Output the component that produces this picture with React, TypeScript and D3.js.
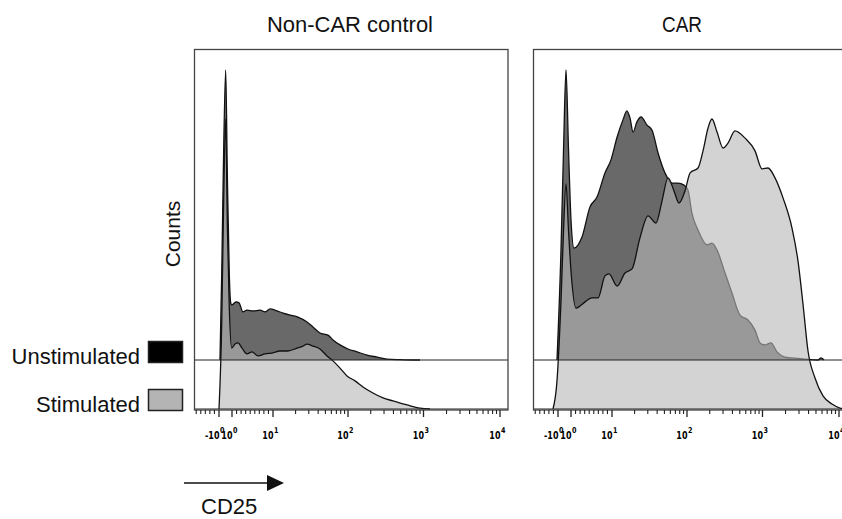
import * as d3 from "d3";
import { useEffect, useRef } from "react";

// CD25 intensity (x) and % of mode (counts)
const controlUnstimX = [-0.85, -0.58, -0.34, 0.03, 0.28, 0.58, 0.8, 0.95, 1.88, 2.54, 3.41, 4.29, 5.61, 7.15, 8.24, 9.34, 11.3, 13.6, 16.9, 21.5, 28.4, 34.1, 42.3, 54.1, 63.1, 78.2, 100, 132, 179, 242, 329, 488, 726, 899];
const controlUnstimCount = [0, 30, 64.5, 100, 64.5, 30, 19.7, 19, 20, 19.7, 16.6, 17.2, 16.9, 17.2, 16.6, 17.6, 16.9, 16.2, 15.5, 14.8, 13.1, 11.4, 9.3, 8.6, 6.9, 5.2, 3.8, 2.8, 1.7, 1.0, 0.3, 0.1, 0, 0];

const controlStimX = [-1.0, -0.58, -0.34, 0.03, 0.28, 0.58, 0.95, 1.66, 2.32, 3.2, 4.29, 5.39, 6.71, 8.24, 9.78, 12.4, 15.8, 20.9, 25.1, 28.4, 34.1, 42.3, 52.5, 63.1, 78.2, 97, 124, 158, 214, 291, 394, 605, 899, 1216];
const controlStimCount = [0, 30, 64, 100, 64, 35, 21, 22.4, 22.8, 21, 19, 19.7, 18.3, 19, 19.3, 20, 20, 21, 21.7, 22.4, 21.7, 20.7, 18.3, 16.6, 14.1, 11.4, 9.7, 7.6, 5.5, 3.8, 2.8, 1.4, 0.3, 0];

const carUnstimX = [-1.22, -0.54, -0.15, 0.23, 0.62, 1.0, 1.66, 3.41, 5.17, 6.71, 8.46, 9.78, 11.7, 14.0, 15.8, 17.4, 19.1, 21.5, 24.4, 29.3, 34.1, 41.1, 50.9, 63.1, 75.9, 91.2, 103, 116, 140, 184, 214, 250, 319, 394, 504, 643, 796, 927, 1078, 1291, 1547, 1968, 2430, 3594, 5315, 5817, 6368];
const carUnstimCount = [0, 37.9, 72.4, 100, 72.4, 48.3, 38.6, 42.4, 52.8, 56.2, 64.5, 69, 76.9, 82.8, 85.9, 83.4, 78.6, 82.1, 83.8, 81, 79.3, 71.4, 64.5, 61, 61, 60.3, 58.6, 50.7, 44.8, 39.7, 40.3, 37.9, 30, 23.1, 15.5, 13.8, 10.3, 5.9, 5.2, 5.9, 2.8, 1.0, 0.7, 0.3, 0, 0.7, 0];

const carStimX = [-2.1, -1.22, -0.54, -0.15, 0.23, 0.62, 1.0, 2.1, 2.98, 4.29, 5.61, 6.93, 8.46, 9.34, 11.7, 14.9, 18.5, 23.6, 30.2, 38.6, 46.4, 55.8, 67.1, 78.2, 94, 110, 140, 163, 190, 214, 250, 300, 349, 432, 587, 796, 985, 1180, 1457, 1854, 2430, 2912, 3383, 3934, 4857, 6178, 8101, 10300, 12725];
const carStimCount = [0, 9.7, 37.2, 61.4, 77.6, 61.4, 47.6, 34.8, 35.5, 37.2, 38.3, 38.3, 45.9, 46.6, 42.4, 46.9, 48.3, 59, 66.6, 64.1, 71.7, 79.7, 75.2, 71, 75.2, 81.4, 83.1, 89, 96.9, 100, 95.5, 90, 91.7, 95.9, 93.4, 89, 82.8, 83.1, 79.7, 72.8, 62.4, 51, 36.2, 20, 10.7, 4.5, 1.7, 0.3, 0];

const panelTitles = ["Non-CAR control", "CAR"];
const legendLabels = ["Unstimulated", "Stimulated"];
const majorTicks = [-1, 1, 10, 100, 1000, 10000];
const majorExponents = ["0", "0", "1", "2", "3", "4"];
const minorTicks = [-2, -3, -4, -5, -6, 2, 3, 4, 5, 6, 7, 8, 9, 20, 30, 40, 50, 60, 70, 80, 90, 200, 300, 400, 500, 600, 700, 800, 900, 2000, 3000, 4000, 5000, 6000, 7000, 8000, 9000];

// biexponential-like transform: linear near zero, log above 10
const biex = (v: number) => {
  const a = Math.abs(v);
  const u = a <= 1 ? a : a <= 10 ? 1 + (a - 1) / 9 : 1 + Math.log10(a);
  return v < 0 ? -u : u;
};

export default function App() {
  const ref: any = useRef();

  useEffect(() => {
    const svg = d3.select(ref.current);
    svg.selectAll("*").remove();

    const font = "'Liberation Sans', Arial, sans-serif";
    const panels = [
      { left: 194.5, unX: controlUnstimX, unC: controlUnstimCount, stX: controlStimX, stC: controlStimCount, title: panelTitles[0], titleX: 350, titleLen: 166 },
      { left: 533.5, unX: carUnstimX, unC: carUnstimCount, stX: carStimX, stC: carStimCount, title: panelTitles[1], titleX: 682, titleLen: 40 },
    ];
    const top = 49.5, bottom = 410, pw = 313.5;
    const unBase = 360, stBase = 409;

    const yUn = d3.scaleLinear().domain([0, 100]).range([unBase, unBase - 290]);
    const ySt = d3.scaleLinear().domain([0, 100]).range([stBase, stBase - 290]);

    panels.forEach((p, i) => {
      const off = p.left - 194.5;
      const x = d3.scaleLinear()
        .domain([-2, -1, 0, 1, 2, 3, 4, 5])
        .range([178, 219, 225.5, 232, 273, 348, 423.5, 500].map(r => r + off));
      const g = svg.append("g");

      g.append("clipPath").attr("id", `clip${i}`)
        .append("rect").attr("x", p.left).attr("y", top).attr("width", pw).attr("height", bottom - top);
      const plot = g.append("g").attr("clip-path", `url(#clip${i})`);

      const un = p.unX.map((v, k) => ({ v, c: p.unC[k] }));
      const st = p.stX.map((v, k) => ({ v, c: p.stC[k] }));

      const areaUn = d3.area<any>().x(d => x(biex(d.v))).y0(unBase).y1(d => yUn(d.c)).curve(d3.curveMonotoneX);
      const lineUn = d3.line<any>().x(d => x(biex(d.v))).y(d => yUn(d.c)).curve(d3.curveMonotoneX);
      const areaSt = d3.area<any>().x(d => x(biex(d.v))).y0(stBase).y1(d => ySt(d.c)).curve(d3.curveMonotoneX);
      const lineSt = d3.line<any>().x(d => x(biex(d.v))).y(d => ySt(d.c)).curve(d3.curveMonotoneX);

      plot.append("path").datum(un).attr("d", areaUn).attr("fill", "#000").attr("fill-opacity", 0.59);
      plot.append("path").datum(un).attr("d", lineUn).attr("fill", "none").attr("stroke", "#111").attr("stroke-width", 1.3);
      plot.append("path").datum(st).attr("d", areaSt).attr("fill", "#b7b7b7").attr("fill-opacity", 0.61);
      plot.append("path").datum(st).attr("d", lineSt).attr("fill", "none").attr("stroke", "#111").attr("stroke-width", 1.3);

      [unBase, stBase].forEach(b => {
        plot.append("line").attr("x1", p.left).attr("x2", p.left + pw).attr("y1", b).attr("y2", b)
          .attr("stroke", "#222").attr("stroke-width", 1);
      });

      // frame
      g.append("rect").attr("x", p.left).attr("y", top).attr("width", pw).attr("height", bottom - top)
        .attr("fill", "none").attr("stroke", "#444").attr("stroke-width", 1.3);

      // ticks
      minorTicks.forEach(t => {
        g.append("line").attr("x1", x(biex(t))).attr("x2", x(biex(t))).attr("y1", bottom).attr("y2", bottom + 4)
          .attr("stroke", "#222").attr("stroke-width", 1.1);
      });
      majorTicks.forEach((t, k) => {
        const tx = x(biex(t));
        g.append("line").attr("x1", tx).attr("x2", tx).attr("y1", bottom).attr("y2", bottom + 7)
          .attr("stroke", "#222").attr("stroke-width", 1.3);
        const lab = g.append("g").attr("transform", `translate(${tx + 0.5},439) scale(0.8,1)`)
          .style("font-family", "'DejaVu Sans', sans-serif").style("font-weight", "bold").attr("fill", "#000");
        lab.append("text").attr("text-anchor", "end").attr("font-size", 10).text(t < 0 ? "-10" : "10");
        lab.append("text").attr("x", 0.5).attr("y", -6.5).attr("font-size", 8).text(majorExponents[k]);
      });

      g.append("text").attr("x", p.titleX).attr("y", 31.5).attr("text-anchor", "middle")
        .attr("font-size", 22).style("font-family", font).attr("fill", "#111")
        .attr("textLength", p.titleLen).attr("lengthAdjust", "spacingAndGlyphs").text(p.title);
    });

    // y label
    svg.append("text").attr("transform", "translate(180,234) rotate(-90)").attr("text-anchor", "middle")
      .attr("font-size", 21).style("font-family", font).attr("fill", "#111").text("Counts");

    // legend
    const legendFill = ["#000", "#b4b4b4"];
    [352, 400].forEach((cy, k) => {
      svg.append("rect").attr("x", 148.5).attr("y", cy - 10.5).attr("width", 34).attr("height", 21)
        .attr("fill", legendFill[k]).attr("stroke", "#222").attr("stroke-width", 1.5);
      svg.append("text").attr("x", 140).attr("y", cy + 12).attr("text-anchor", "end")
        .attr("font-size", 22).style("font-family", font).attr("fill", "#111").text(legendLabels[k]);
    });

    // axis arrow
    svg.append("line").attr("x1", 184).attr("x2", 268).attr("y1", 483).attr("y2", 483)
      .attr("stroke", "#111").attr("stroke-width", 1.5);
    svg.append("path").attr("d", "M267,475 L284,483 L267,491 Z").attr("fill", "#111");
    svg.append("text").attr("x", 201).attr("y", 514).attr("font-size", 22)
      .style("font-family", font).attr("fill", "#111").text("CD25");
  }, []);

  return (
    <svg ref={ref} width={842} height={519}
      style={{ position: "absolute", left: 0, top: 0, background: "#fff" }} />
  );
}
